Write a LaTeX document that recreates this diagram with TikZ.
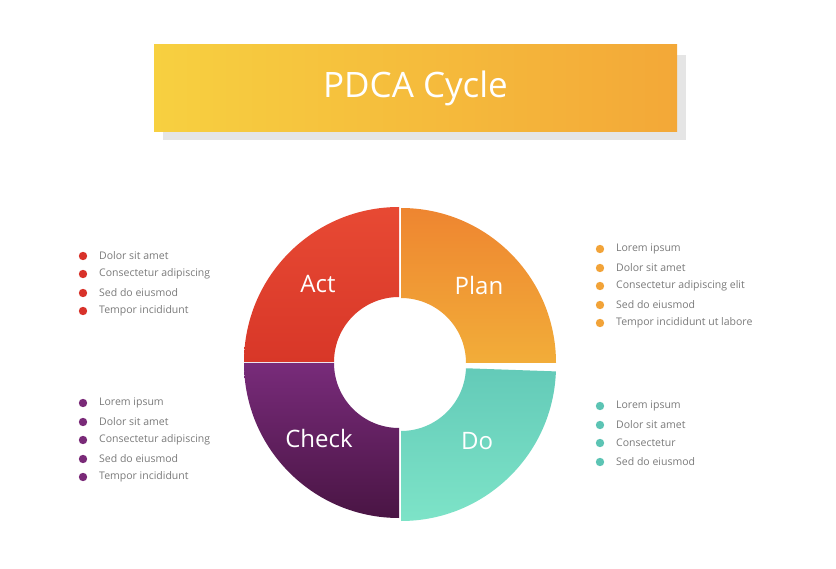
\documentclass[tikz,border=0pt]{standalone}
\usepackage{fontspec}
\setmainfont{Open Sans}
\usetikzlibrary{calc}
\definecolor{txt}{HTML}{7A7A7A}
\definecolor{actc}{HTML}{D8322A}
\definecolor{planc}{HTML}{F2A338}
\definecolor{doc}{HTML}{5CC4B4}
\definecolor{checkc}{HTML}{7A2A78}
\tikzset{
 item/.style={anchor=west,font=\fontsize{10.5}{12}\selectfont,text=txt,inner sep=0},
 lab/.style={text=white,font=\fontsize{24}{28}\selectfont}
}
\newcommand{\sector}[4]{% center, a1, a2, shading opts
 \begin{scope}
 \clip ($#1+(#2:155)$) arc[start angle=#2,end angle=#3,radius=155] -- ($#1+(#3:65)$) arc[start angle=#3,end angle=#2,radius=65] -- cycle;
 \shade[#4] ($#1+(-160,-160)$) rectangle ($#1+(160,160)$);
 \end{scope}}
\newcommand{\bul}[4]{\fill[#1] (#2,#3) circle (4.2);\node[item] at (#2+16,#3) {#4};}
\begin{document}
\begin{tikzpicture}[x=1pt,y=1pt]
\useasboundingbox (0,0) rectangle (836,-569);
\fill[white] (0,0) rectangle (836,-569);
% title
\fill[black!10] (163,-55) rectangle (686,-140);
\shade[left color={rgb,255:red,247;green,208;blue,64},right color={rgb,255:red,243;green,168;blue,56}] (154,-45) rectangle (677,-132);
\node[text=white,font=\fontsize{35}{40}\selectfont] (title) at (415.5,-88) {PDCA Cycle};
% sectors
\sector{(401,-363)}{0}{90}{shading angle=45,top color={rgb,255:red,238;green,132;blue,48},bottom color={rgb,255:red,246;green,214;blue,66}}
\sector{(401,-366)}{270}{358}{shading angle=315,top color={rgb,255:red,72;green,176;blue,168},bottom color={rgb,255:red,126;green,228;blue,200}}
\sector{(399,-363)}{180}{270}{shading angle=45,top color={rgb,255:red,168;green,66;blue,178},bottom color={rgb,255:red,72;green,20;blue,66}}
\sector{(399,-362)}{90}{180}{shading angle=315,top color={rgb,255:red,232;green,74;blue,52},bottom color={rgb,255:red,200;green,36;blue,28}}
\node[lab] (act) at (318,-284) {Act};
\node[lab] (plan) at (479,-286) {Plan};
\node[lab] (check) at (319,-439) {Check};
\node[lab] (do) at (477,-441) {Do};
% lists
\bul{actc}{83}{-256}{Dolor sit amet}
\bul{actc}{83}{-274}{Consectetur adipiscing}
\bul{actc}{83}{-293}{Sed do eiusmod}
\bul{actc}{83}{-311}{Tempor incididunt}
\bul{checkc}{83}{-403}{Lorem ipsum}
\bul{checkc}{83}{-422}{Dolor sit amet}
\bul{checkc}{83}{-440}{Consectetur adipiscing}
\bul{checkc}{83}{-459}{Sed do eiusmod}
\bul{checkc}{83}{-477}{Tempor incididunt}
\bul{planc}{600}{-249}{Lorem ipsum}
\bul{planc}{600}{-268}{Dolor sit amet}
\bul{planc}{600}{-286}{Consectetur adipiscing elit}
\bul{planc}{600}{-305}{Sed do eiusmod}
\bul{planc}{600}{-323}{Tempor incididunt ut labore}
\bul{doc}{600}{-406}{Lorem ipsum}
\bul{doc}{600}{-425}{Dolor sit amet}
\bul{doc}{600}{-443}{Consectetur}
\bul{doc}{600}{-462}{Sed do eiusmod}
\end{tikzpicture}
\end{document}
